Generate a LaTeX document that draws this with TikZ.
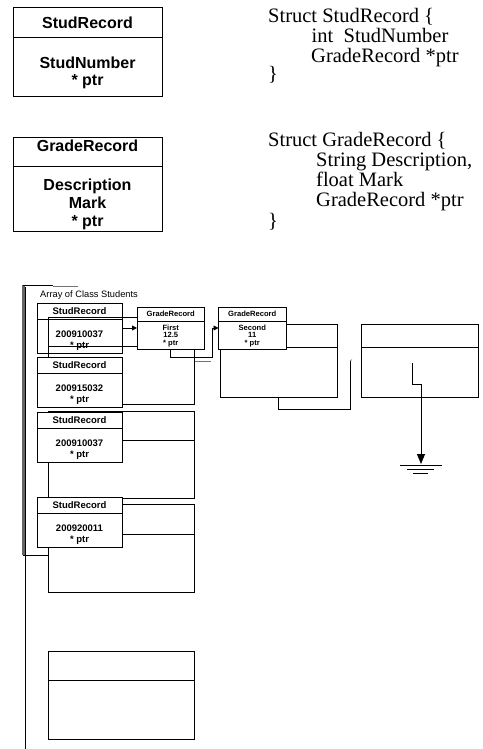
\documentclass[tikz,border=0pt]{standalone}
\usepackage{fontspec}
\setmainfont{Liberation Serif}
\newfontfamily\arialf{Liberation Sans}
\usetikzlibrary{arrows.meta,calc}

\newcommand\srec[4]{% name, x, y(top), number
  \node[box,minimum width=85pt,minimum height=50pt] (#1) at (#2,#3) {};
  \draw[conn] (#1.north west) ++(0,16.5) -- ++(85,0);
  \node[srtxt] (#1t) at ($(#1.north)+(0,11.3)$) {StudRecord};
  \node[srtxt] (#1n) at ($(#1.north)+(0,34.3)$) {#4};
  \node[srtxt] (#1p) at ($(#1.north)+(0,45)$) {* ptr};
}
\newcommand\grec[5]{% name, x, y(top), desc, mark
  \node[box,minimum width=67.5pt,minimum height=42pt] (#1) at (#2,#3) {};
  \draw[conn] (#1.north west) ++(0,14) -- ++(67.5,0);
  \node[grtxt] (#1t) at ($(#1.north)+(0,9)$) {GradeRecord};
  \node[grtxt] (#1d) at ($(#1.north)+(0,23.7)$) {#4};
  \node[grtxt] (#1m) at ($(#1.north)+(0,30.9)$) {#5};
  \node[grtxt] (#1p) at ($(#1.north)+(0,38.3)$) {* ptr};
}

\begin{document}
\begin{tikzpicture}[x=1pt,y=-1pt,
  conn/.style={line width=0.8pt},
  box/.style={draw,line width=0.8pt,fill=white,inner sep=0pt,outer sep=0pt,anchor=north west},
  openbox/.style={draw,line width=0.8pt,inner sep=0pt,outer sep=0pt,anchor=north west},
  bigtxt/.style={font=\arialf\bfseries\fontsize{16}{18}\selectfont,anchor=base,inner sep=0pt},
  codetxt/.style={font=\fontsize{20.5}{24}\selectfont,anchor=base west,inner sep=0pt},
  srtxt/.style={font=\arialf\bfseries\fontsize{9.5}{11}\selectfont,anchor=base,inner sep=0pt},
  grtxt/.style={font=\arialf\bfseries\fontsize{7.6}{8}\selectfont,anchor=base,inner sep=0pt},
]
\useasboundingbox (0,0) rectangle (482,749);

% ---------- definitions (top) ----------
\node[box,line width=1pt,minimum width=149pt,minimum height=89pt] (sdef) at (13,8) {};
\draw[line width=1pt] (sdef.north west) ++(0,30) -- ++(149,0);
\node[bigtxt] (sdeft) at (87.5,28.5) {StudRecord};
\node[bigtxt] (sdefn) at (87.5,68.3) {StudNumber};
\node[bigtxt] (sdefp) at (87.5,86) {* ptr};

\node[box,line width=1pt,minimum width=149pt,minimum height=94pt] (gdef) at (13,137) {};
\draw[line width=1pt] (gdef.north west) ++(0,29) -- ++(149,0);
\node[bigtxt] (gdeft) at (87.5,151.7) {GradeRecord};
\node[bigtxt] (gdefd) at (87.5,190) {Description};
\node[bigtxt] (gdefm) at (87.5,208.3) {Mark};
\node[bigtxt] (gdefp) at (87.5,226) {* ptr};

\node[codetxt] (c1) at (268,23) {Struct StudRecord \{};
\node[codetxt] (c2) at (311.5,42.7) {int~~StudNumber};
\node[codetxt] (c3) at (311,62.7) {GradeRecord *ptr};
\node[codetxt] (c4) at (268,81) {\}};
\node[codetxt] (c5) at (268,146.7) {Struct GradeRecord \{};
\node[codetxt] (c6) at (316,166.7) {String Description,};
\node[codetxt] (c7) at (316,186.7) {float Mark};
\node[codetxt] (c8) at (316,206.7) {GradeRecord *ptr};
\node[codetxt] (c9) at (268,227) {\}};

% ---------- array bracket ----------
\draw[line width=2.2pt, black!60] (23.5,285) -- (23.5,555);
\draw[conn] (22.5,285) -- (53,285);
\draw[line width=0.8pt, black!55] (53,286.5) -- (78,286.5);
\draw[conn] (23,555) -- (55,555);
\draw[conn] (25.5,287) -- (25.5,749);
\node[font=\arialf\fontsize{9.3}{10}\selectfont,anchor=base west,inner sep=0pt] (arrlabel) at (40,297.3) {Array of Class Students};

% ---------- records ----------
\srec{sr1}{37}{303}{200910037}
\node[openbox,minimum width=146pt,minimum height=87pt] (recA) at (48,317) {};
\draw[conn] (recA.north west) ++(0,29) -- ++(146,0);
\srec{sr2}{37}{357}{200915032}
\grec{gr1}{137}{307}{First}{12.5}

\node[box,minimum width=117pt,minimum height=73pt] (recB) at (220,324) {};
\draw[conn] (recB.north west) ++(0,23) -- ++(117,0);
\grec{gr2}{218.5}{307}{Second}{11}

\node[box,minimum width=146pt,minimum height=87pt] (rec3) at (48,411) {};
\draw[conn] (rec3.north west) ++(0,29) -- ++(146,0);
\node[box,minimum width=146pt,minimum height=88pt] (rec4) at (48,504) {};
\draw[conn] (rec4.north west) ++(0,30) -- ++(146,0);
\srec{sr3}{37}{412}{200910037}
\srec{sr4}{37}{497}{200920011}

\node[box,minimum width=146pt,minimum height=88pt] (rec5) at (48,651) {};
\draw[conn] (rec5.north west) ++(0,29) -- ++(146,0);

\node[box,minimum width=117pt,minimum height=73pt] (recC) at (361,324) {};
\draw[conn] (recC.north west) ++(0,23) -- ++(117,0);

% ---------- connectors ----------
\draw[conn,-{Triangle[length=5pt,width=5pt]}] (sr1.east) -- (gr1.west);
\draw[conn,-{Triangle[length=5pt,width=5pt]}] (gr1.south) -- ++(0,8) -| ($(gr2.west)+(-6,0)$) -- (gr2.west);
\draw[line width=0.8pt, black!55] (195,361) -- (211,361);

\coordinate (bend) at (350,361);
\draw[conn] (recB.south) -- ++(0,12) -| (bend);
\draw[line width=0.6pt, black!55] (bend) -- ++(2,-1.5);

\coordinate (cin) at (412,363);
\coordinate (gnd) at (421,464);
\draw[conn,-{Triangle[length=10pt,width=8pt]}] (cin) -- ++(0,21) -| (gnd);
\draw[conn] (400,465) -- (442,465);
\draw[conn] (407,469) -- (434,469);
\draw[conn] (413,473) -- (428,473);
\end{tikzpicture}
\end{document}
